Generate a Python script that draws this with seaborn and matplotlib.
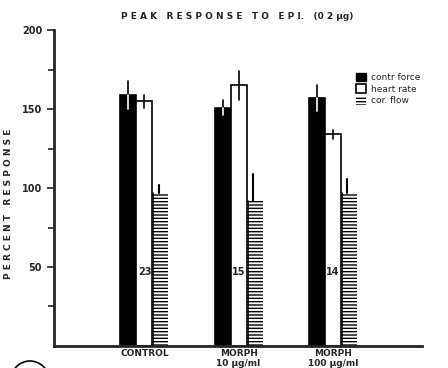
import matplotlib
matplotlib.use("Agg")
import matplotlib.pyplot as plt
import matplotlib.patches as mpatches
import seaborn as sns
import pandas as pd

groups = ["CONTROL", "MORPH\n10 \u00b5g/ml", "MORPH\n100 \u00b5g/ml"]
measures = ["contr force", "heart rate", "cor. flow"]
contr_force = [159, 151, 157]
heart_rate = [155, 165, 134]
cor_flow = [97, 92, 97]
contr_err = [9, 5, 8]
heart_err = [4, 9, 3]
flow_err = [5, 17, 9]
n_values = [23, 15, 14]

rows = []
for g, a, b, c in zip(groups, contr_force, heart_rate, cor_flow):
    rows.append((g, measures[0], a))
    rows.append((g, measures[1], b))
    rows.append((g, measures[2], c))
df = pd.DataFrame(rows, columns=["group", "measure", "value"])

sns.set_style("ticks")
plt.rcParams['font.family'] = ['DejaVu Sans']
plt.rcParams['hatch.linewidth'] = 1.0

fig = plt.figure(figsize=(4.48, 3.68), dpi=100)
ax = fig.add_axes([0.1205, 0.06, 0.822, 0.858])

sns.barplot(data=df, x="group", y="value", hue="measure", order=groups,
            hue_order=measures, palette=["black", "white", "white"],
            width=0.51, errorbar=None, legend=False, ax=ax,
            edgecolor="black", linewidth=1.2)

bars = ax.patches[:9]
errs = [contr_err, heart_err, flow_err]
for i, p in enumerate(bars):
    m, g = divmod(i, 3)
    x = p.get_x() + p.get_width() / 2
    top = p.get_height()
    e = errs[m][g]
    if m == 0:
        ax.plot([x, x], [top, top + e], color="black", lw=1.2)
        ax.plot([x, x], [top - e, top], color="white", lw=1.2)
    elif m == 1:
        ax.plot([x, x], [top - e, top + e], color="black", lw=1.2)
    else:
        p.set_hatch("-----")
        p.set_linewidth(0)
        ax.plot([p.get_x() + 0.01, p.get_x() + 0.01], [0, top], color="black", lw=1.2)
        ax.plot([x - 0.02, x - 0.02], [top, top + e], color="black", lw=1.5)
        hr = bars[3 + g]
        ax.text(hr.get_x() + hr.get_width() - 0.01, 47, str(n_values[g]),
                ha="right", va="center", fontsize=7, fontweight="bold")

ax.set_xlim(-0.96, 2.95)
ax.set_ylim(0, 200)
ax.set_yticks([50, 100, 150, 200])
ax.set_yticks([25, 75, 125, 175], minor=True)
ax.tick_params(axis="y", which="major", length=5, width=1.2, labelsize=7)
ax.tick_params(axis="y", which="minor", length=4, width=1.2)
ax.tick_params(axis="x", length=0, labelsize=6.5, pad=2)
for lab in ax.get_yticklabels() + ax.get_xticklabels():
    lab.set_fontweight("bold")
ax.set_xlabel("")
ax.set_ylabel("P E R C E N T   R E S P O N S E", fontsize=6.5, fontweight="bold")
ax.yaxis.set_label_coords(-0.11, 0.45)
sns.despine(ax=ax)
ax.spines["left"].set_linewidth(2)
ax.spines["bottom"].set_linewidth(2)

fig.text(0.53, 0.955, "P E A K   R E S P O N S E   T O   E P I.   (0 2 \u00b5g)", ha="center",
         va="center", fontsize=6.5, fontweight="bold")

handles = [mpatches.Patch(facecolor="black", edgecolor="black"),
           mpatches.Patch(facecolor="white", edgecolor="black", linewidth=1.2),
           mpatches.Patch(facecolor="white", edgecolor="black", linewidth=0, hatch="-----")]
fig.legend(handles, measures, loc="upper left", bbox_to_anchor=(0.785, 0.815),
           frameon=False, fontsize=6.5, handlelength=1.1, handleheight=1.1,
           handletextpad=0.5, labelspacing=0.25, borderpad=0)

fig.patches.append(mpatches.Circle((30, -12), 19, transform=None, fill=False,
                                   edgecolor="black", lw=1.2))

fig.savefig("out.png", dpi=100)
